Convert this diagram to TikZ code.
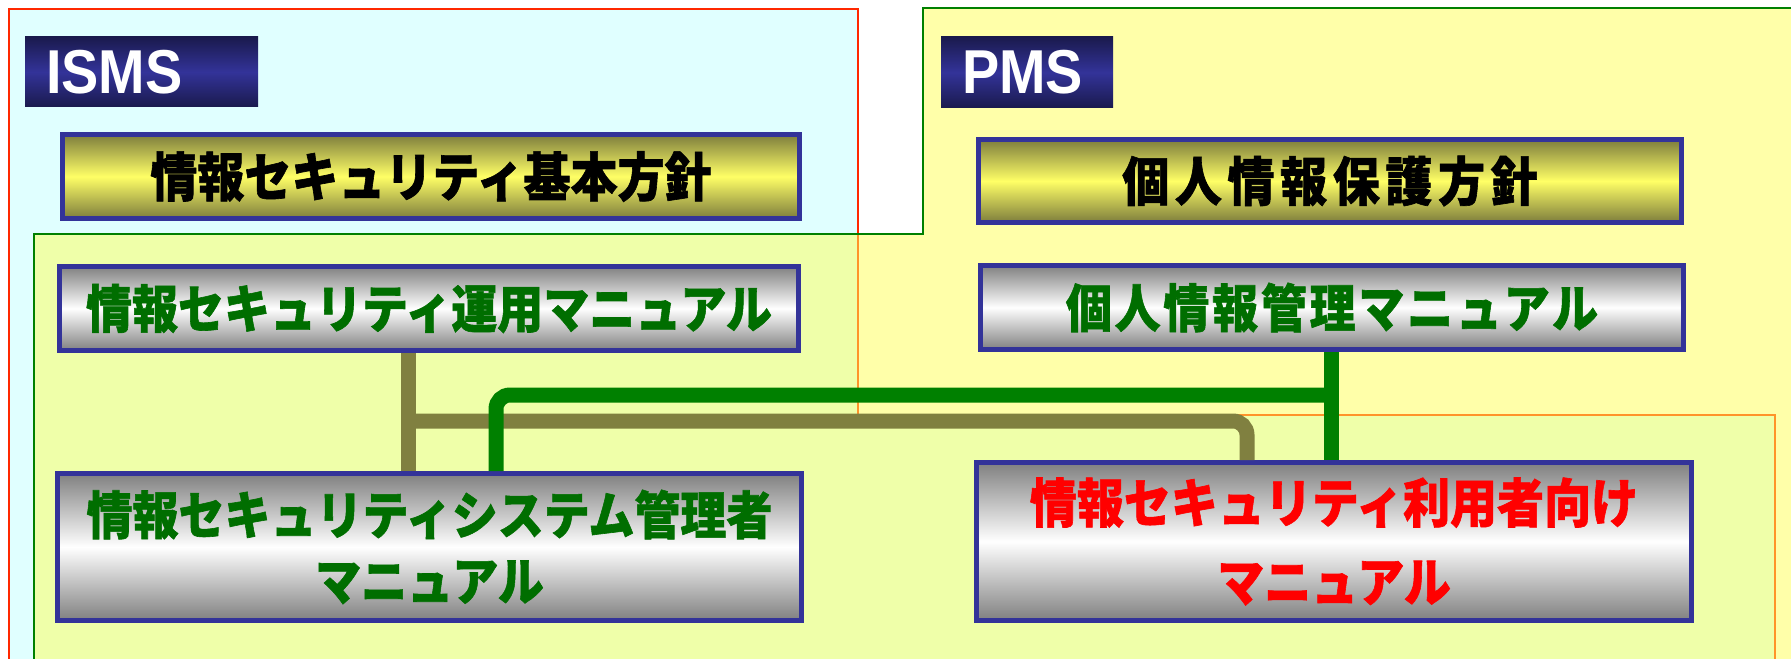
\documentclass[tikz,border=0pt]{standalone}
\usepackage{fontspec}
\usepackage{graphicx}
\setmainfont{Liberation Sans}
\newfontfamily\jp{Noto Sans CJK JP}[BoldFeatures={FakeBold=1.2}]
\definecolor{boxblue}{RGB}{51,51,153}
\definecolor{navydark}{RGB}{26,26,77}
\definecolor{navymid}{RGB}{51,51,153}
\definecolor{olivedark}{RGB}{125,125,60}
\definecolor{yellowmid}{RGB}{255,255,102}
\definecolor{graydark}{RGB}{128,128,128}
\definecolor{txtgreen}{RGB}{0,110,0}
\definecolor{lnkgreen}{RGB}{0,128,0}
\definecolor{lnkolive}{RGB}{128,128,64}
\definecolor{ismscyan}{RGB}{224,255,255}
\definecolor{pmsyellow}{RGB}{255,255,85}
\definecolor{ismsred}{RGB}{255,40,0}
\definecolor{pmsgreen}{RGB}{0,128,0}
\newcommand{\tallt}[1]{\scalebox{1}[1.12]{#1}}
\newcommand{\narrowt}[1]{\scalebox{0.9}[1]{#1}}
\begin{document}
\begin{tikzpicture}[x=0.5pt,y=-0.5pt,
  labelbox/.style={top color=navydark,bottom color=navydark,middle color=navymid,
    inner xsep=10.5pt,inner ysep=0pt,text=white,align=left,
    font=\bfseries\fontsize{31}{31}\selectfont},
  policybox/.style={draw=boxblue,line width=2.5pt,top color=olivedark,
    bottom color=olivedark,middle color=yellowmid,inner sep=0pt,text=black,
    font=\jp\bfseries\fontsize{23.5}{28}\selectfont},
  manualbox/.style={draw=boxblue,line width=2.5pt,top color=graydark,
    bottom color=graydark,middle color=white,inner sep=0pt,align=center,
    text=txtgreen,font=\jp\bfseries\fontsize{23}{33}\selectfont},
  link/.style={line width=7.5pt}
]
\useasboundingbox (0,0) rectangle (1791,658);
\clip (0,0) rectangle (1791,658);
\fill[white] (0,0) rectangle (1791,658);

% ISMS region
\fill[ismscyan] (9,9) -- (858,9) -- (858,415) -- (1775,415) -- (1775,680) -- (9,680) -- cycle;
\draw[ismsred,line width=1pt] (9,680) -- (9,9) -- (858,9) -- (858,415) -- (1775,415) -- (1775,680);
% PMS region
\fill[pmsyellow,opacity=0.5] (923,8) -- (1800,8) -- (1800,680) -- (34,680) -- (34,234) -- (923,234) -- cycle;
\draw[pmsgreen,line width=1.2pt] (1800,8) -- (923,8) -- (923,234) -- (34,234) -- (34,680);

% labels
\node[labelbox,text width=95.5pt,minimum height=35pt] (isms) at (141.5,72) {\narrowt{ISMS}};
\node[labelbox,text width=65pt,minimum height=35.5pt] (pms) at (1027,72.5) {\narrowt{PMS}};

% policies
\node[policybox,minimum width=368.5pt,minimum height=42pt] (isp) at (431,176.5)
  {\tallt{情報セキュリティ基本方針}};
\node[policybox,minimum width=351.5pt,minimum height=41.5pt] (pp) at (1330,181)
  {\tallt{\addfontfeature{LetterSpace=12}個人情報保護方針}};

% manuals
\node[manualbox,minimum width=369.5pt,minimum height=42pt] (ops) at (429,308.5)
  {\tallt{情報セキュリティ運用マニュアル}};
\node[manualbox,minimum width=351.5pt,minimum height=42pt] (pim) at (1332,307.5)
  {\tallt{\addfontfeature{LetterSpace=6}個人情報管理マニュアル}};
\node[manualbox,minimum width=372pt,minimum height=73.5pt] (adm) at (429.5,547)
  {\tallt{情報セキュリティシステム管理者}\\\tallt{マニュアル}};
\node[manualbox,minimum width=357.5pt,minimum height=79pt,text=red,
  font=\jp\bfseries\fontsize{23.5}{39.5}\selectfont] (usr) at (1334,541.5)
  {\tallt{情報セキュリティ利用者向け}\\\tallt{マニュアル}};

% connectors
\coordinate (o1) at (408,421);
\coordinate (o2) at (1247,421);
\coordinate (g1) at (496,395);
\coordinate (g2) at (1331,395);
\draw[link,lnkolive] (ops.south -| o1) -- (adm.north -| o1);
\draw[link,lnkolive,rounded corners=7pt] (o1) -| (usr.north -| o2);
\draw[link,lnkgreen,rounded corners=7pt] (adm.north -| g1) |- (g2);
\draw[link,lnkgreen] (pim.south -| g2) -- (usr.north -| g2);
\end{tikzpicture}
\end{document}
